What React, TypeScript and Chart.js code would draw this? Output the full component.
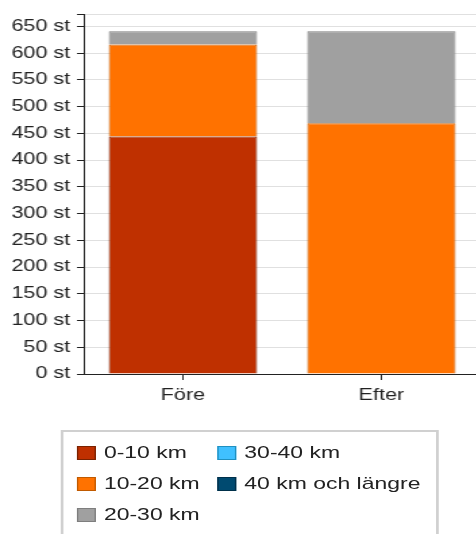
import React, { useEffect, useRef } from "react";
import { Chart, registerables } from "chart.js";

Chart.register(...registerables);

const categories = ["Före", "Efter"];
const seriesNames = ["0-10 km", "10-20 km", "20-30 km", "30-40 km", "40 km och längre"];
const series0to10 = [444, 1];
const series10to20 = [172, 468];
const series20to30 = [25, 172];
const series30to40 = [0, 0];
const series40plus = [0, 0];
const yTickValues = [0, 50, 100, 150, 200, 250, 300, 350, 400, 450, 500, 550, 600, 650];
const fillColors = ["#BF3000", "#FF7200", "#A0A0A0", "#40C0FF", "#004A70"];
const borderColors = ["#7A2200", "#C05A00", "#7E7E7E", "#2090C0", "#00304A"];
const yMax = 672;
const SX = 1.35;

export default function App() {
  const ref = useRef<HTMLCanvasElement | null>(null);
  useEffect(() => {
    if (!ref.current) return;
    const values = [series0to10, series10to20, series20to30, series30to40, series40plus];
    const chart = new Chart(ref.current, {
      type: "bar",
      data: {
        labels: categories,
        datasets: seriesNames.map((name, i) => ({
          label: name,
          data: values[i],
          backgroundColor: fillColors[i],
          borderColor: borderColors[i],
          borderWidth: 1,
          categoryPercentage: 1,
          barPercentage: 0.748,
        })),
      },
      options: {
        animation: false,
        responsive: false,
        layout: { padding: { top: 13, right: 0, bottom: 0, left: 0 } },
        plugins: { legend: { display: false }, tooltip: { enabled: false } },
        scales: {
          x: {
            stacked: true,
            grid: { display: true, offset: false, drawOnChartArea: false, tickLength: 6, color: "#222" },
            border: { color: "#222", width: 1 },
            ticks: { color: "#222", font: { family: "Liberation Sans", size: 16 }, padding: 6 },
            afterFit: (s: any) => { s.height = 36; },
          },
          y: {
            stacked: true,
            min: 0,
            max: yMax,
            grid: { color: "#e0e0e0", tickLength: 5, tickColor: "#222" },
            border: { color: "#222", width: 1 },
            ticks: {
              color: "#222",
              font: { family: "Liberation Sans", size: 16 },
              padding: 5,
              callback: (v: any) => (yTickValues.includes(Number(v)) ? `${v} st` : ""),
            },
            afterBuildTicks: (s: any) => {
              s.ticks = [...yTickValues, yMax].map((v) => ({ value: v }));
            },
            afterFit: (s: any) => { s.width = 62; },
          },
        },
      },
    });
    return () => chart.destroy();
  }, []);

  const legendItem = (i: number) => (
    <div key={i} style={{ display: "flex", alignItems: "center", height: 31 }}>
      <span style={{ display: "inline-block", width: 12, height: 12, background: fillColors[i], border: `1px solid ${borderColors[i]}`, marginRight: 6 }} />
      <span>{seriesNames[i]}</span>
    </div>
  );

  return (
    <div style={{ position: "absolute", left: 0, top: 0, width: 476, height: 534, overflow: "hidden", background: "#fff", fontFamily: "Liberation Sans, Arial, sans-serif" }}>
      <div style={{ position: "absolute", left: 0, top: 0, transform: `scaleX(${SX})`, transformOrigin: "0 0" }}>
        <canvas ref={ref} width={356} height={410} style={{ display: "block" }} />
      </div>
      <div style={{ position: "absolute", left: 0, top: 0, width: 476 / SX, height: 534, transform: `scaleX(${SX})`, transformOrigin: "0 0" }}>
        <div style={{ position: "absolute", left: 45, top: 430, width: 280, height: 120, border: "2px solid #d0d0d0", boxSizing: "border-box", fontSize: 17, color: "#222" }}>
          <div style={{ position: "absolute", left: 10, top: 5 }}>
            {legendItem(0)}
            {legendItem(1)}
            {legendItem(2)}
          </div>
          <div style={{ position: "absolute", left: 114, top: 5 }}>
            {legendItem(3)}
            {legendItem(4)}
          </div>
        </div>
      </div>
    </div>
  );
}
